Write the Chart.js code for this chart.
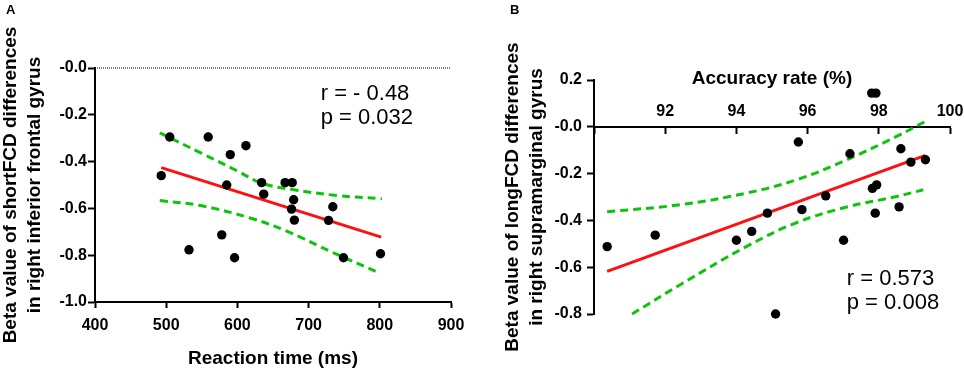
<!DOCTYPE html>
<html>
<head>
<meta charset="utf-8">
<script src="https://cdn.jsdelivr.net/npm/chart.js@4/dist/chart.umd.min.js"></script>
<style>
  html, body { margin: 0; padding: 0; background: #fff; }
  #wrap { position: relative; width: 964px; height: 373px; overflow: hidden; }
  .panel { position: absolute; top: 0; height: 373px; }
  .tag { position: absolute; top: 2px; font: bold 13px "Liberation Sans", Arial, sans-serif; }
</style>
</head>
<body>
<div id="wrap">
  <div class="panel" style="left:0;width:480px"><canvas id="chartA" width="480" height="373"></canvas></div>
  <div class="panel" style="left:480px;width:484px"><canvas id="chartB" width="484" height="373"></canvas></div>
  <div class="tag" style="left:6px">A</div>
  <div class="tag" style="left:510px">B</div>
</div>
<script>
// panel A: reaction time (ms) vs beta of shortFCD
const rtA = [493, 505, 559, 590, 612, 585, 532, 578, 596, 634, 637, 667, 677, 679, 676, 680, 734, 728, 749, 801];
const betaA = [-0.46, -0.295, -0.295, -0.37, -0.332, -0.50, -0.777, -0.713, -0.811, -0.49, -0.539, -0.49, -0.49, -0.563, -0.603, -0.65, -0.593, -0.651, -0.811, -0.794];
const fitA_x = [493, 802];
const fitA_y = [-0.426, -0.723];
const ciUpA_x = [491, 550, 600, 634, 679, 740, 803];
const ciUpA_y = [-0.277, -0.365, -0.44, -0.492, -0.52, -0.545, -0.559];
const ciLoA_x = [491, 548, 618, 670, 735, 801];
const ciLoA_y = [-0.566, -0.588, -0.641, -0.698, -0.79, -0.878];
const xTicksA = [400, 500, 600, 700, 800, 900];
const yTicksA = [0, -0.2, -0.4, -0.6, -0.8, -1.0];

// panel B: accuracy rate (%) vs beta of longFCD
const accB = [90.37, 91.72, 94.0, 94.43, 94.87, 95.10, 95.74, 95.84, 96.51, 97.01, 97.19, 97.80, 97.92, 97.82, 97.94, 97.90, 98.62, 98.57, 98.90, 99.31];
const betaB = [-0.512, -0.463, -0.485, -0.447, -0.369, -0.80, -0.065, -0.354, -0.295, -0.485, -0.115, 0.144, 0.144, -0.263, -0.248, -0.369, -0.094, -0.342, -0.151, -0.141];
const fitB_x = [90.37, 99.31];
const fitB_y = [-0.618, -0.122];
const ciUpB_x = [90.37, 92.42, 94.29, 95.70, 97.10, 98.50, 99.31];
const ciUpB_y = [-0.363, -0.333, -0.283, -0.226, -0.141, -0.041, 0.023];
const ciLoB_x = [91.07, 92.42, 94.29, 95.70, 97.10, 98.50, 99.25];
const ciLoB_y = [-0.80, -0.675, -0.511, -0.409, -0.343, -0.298, -0.269];
const xTicksB = [92, 94, 96, 98, 100];
const yTicksB = [0.2, 0, -0.2, -0.4, -0.6, -0.8];

const FONT = '"Liberation Sans", Arial, sans-serif';
const GREEN = '#0cc40c';
const RED = '#ff1010';

const pts = (xs, ys) => xs.map((x, i) => ({ x, y: ys[i] }));

function yLabel(v) {
  if (Math.abs(v) < 1e-9) return '-0.0';
  return v.toFixed(1);
}

// draws the r / p text at a data position
const notePlugin = {
  id: 'note',
  afterDraw(chart, args, opts) {
    if (!opts.lines) return;
    const { ctx, scales } = chart;
    const x = scales.x.getPixelForValue(opts.x);
    const y = scales.y.getPixelForValue(opts.y);
    ctx.save();
    ctx.fillStyle = '#000';
    ctx.font = '22px ' + FONT;
    ctx.textBaseline = 'alphabetic';
    opts.lines.forEach((t, i) => ctx.fillText(t, x, y + i * 24));
    if (opts.xTitle) {
      ctx.font = 'bold 19px ' + FONT;
      ctx.textAlign = 'center';
      ctx.textBaseline = 'middle';
      const ca = chart.chartArea;
      ctx.fillText(opts.xTitle, (ca.left + ca.right) / 2, scales.y.getPixelForValue(0) - 48);
    }
    ctx.restore();
  }
};

function datasets(sx, sy, fx, fy, ux, uy, lx, ly) {
  return [
    { data: pts(sx, sy), showLine: false, pointRadius: 4.7, pointHoverRadius: 4.7,
      backgroundColor: '#000', borderColor: '#000', borderWidth: 0, order: 0, clip: 8 },
    { data: pts(fx, fy), showLine: true, pointRadius: 0, borderColor: RED, borderWidth: 3, order: 1, clip: 8 },
    { data: pts(ux, uy), showLine: true, pointRadius: 0, borderColor: GREEN, borderWidth: 3,
      borderDash: [8, 5], tension: 0.4, order: 2, clip: 8 },
    { data: pts(lx, ly), showLine: true, pointRadius: 0, borderColor: GREEN, borderWidth: 3,
      borderDash: [8, 5], tension: 0.4, order: 2, clip: 8 }
  ];
}

const tickFont = { family: FONT, size: 16, weight: 'bold' };
const titleFont = { family: FONT, size: 19, weight: 'bold', lineHeight: 1.26 };

// ---- panel A
const dsA = datasets(rtA, betaA, fitA_x, fitA_y, ciUpA_x, ciUpA_y, ciLoA_x, ciLoA_y);
dsA.push({ data: pts([400, 900], [0, 0]), showLine: true, pointRadius: 0, borderColor: '#000',
  borderWidth: 1, borderDash: [1, 1], order: 3, clip: 8 });

new Chart(document.getElementById('chartA'), {
  type: 'scatter',
  data: { datasets: dsA },
  plugins: [notePlugin],
  options: {
    responsive: false, animation: false, devicePixelRatio: 1,
    layout: { padding: { top: 68, right: 29, left: 0, bottom: 0 } },
    plugins: { legend: { display: false }, tooltip: { enabled: false },
      note: { x: 717, y: -0.137, lines: ['r = - 0.48', 'p = 0.032'] } },
    scales: {
      x: {
        type: 'linear', min: 400, max: 900,
        afterBuildTicks: s => { s.ticks = xTicksA.map(v => ({ value: v })); },
        afterFit: s => { s.height = 71; },
        ticks: { font: tickFont, color: '#000', padding: 8 },
        grid: { drawOnChartArea: false, tickLength: 6, tickWidth: 2, color: '#000' },
        border: { color: '#000', width: 2 },
        title: { display: true, text: 'Reaction time (ms)', font: titleFont, color: '#000',
          padding: { top: 0, bottom: 2 } }
      },
      y: {
        type: 'linear', min: -1.0, max: 0,
        afterBuildTicks: s => { s.ticks = yTicksA.map(v => ({ value: v })); },
        afterFit: s => { s.width = 95; },
        ticks: { font: tickFont, color: '#000', padding: 1, callback: yLabel },
        grid: { drawOnChartArea: false, tickLength: 7, tickWidth: 2, color: '#000' },
        border: { color: '#000', width: 2 },
        title: { display: true, text: ['Beta value of shortFCD differences', 'in right inferior frontal gyrus'],
          font: titleFont, color: '#000', padding: { top: -1, bottom: 0 } }
      }
    }
  }
});

// ---- panel B
const dsB = datasets(accB, betaB, fitB_x, fitB_y, ciUpB_x, ciUpB_y, ciLoB_x, ciLoB_y);

new Chart(document.getElementById('chartB'), {
  type: 'scatter',
  data: { datasets: dsB },
  plugins: [notePlugin],
  options: {
    responsive: false, animation: false, devicePixelRatio: 1,
    layout: { padding: { top: 80, right: 14, left: 0, bottom: 59 } },
    plugins: { legend: { display: false }, tooltip: { enabled: false },
      note: { x: 97.1, y: -0.675, lines: ['r = 0.573', 'p = 0.008'], xTitle: 'Accuracy rate (%)' } },
    scales: {
      x: {
        type: 'linear', min: 90, max: 100, position: { y: 0 },
        afterBuildTicks: s => { s.ticks = [90].concat(xTicksB).map(v => ({ value: v })); },
        ticks: { font: tickFont, color: '#000', padding: -31,
          callback: v => (v === 90 ? '' : String(v)) },
        grid: { drawOnChartArea: false, tickLength: 6, tickWidth: 2, color: '#000' },
        border: { color: '#000', width: 2 }
      },
      y: {
        type: 'linear', min: -0.8, max: 0.2,
        afterBuildTicks: s => { s.ticks = yTicksB.map(v => ({ value: v })); },
        afterFit: s => { s.width = 114; },
        ticks: { font: tickFont, color: '#000', padding: 5, callback: yLabel },
        grid: { drawOnChartArea: false, tickLength: 7, tickWidth: 2, color: '#000' },
        border: { color: '#000', width: 2 },
        title: { display: true, text: ['Beta value of longFCD differences', 'in right supramarginal gyrus'],
          font: titleFont, color: '#000', padding: { top: 21, bottom: 0 } }
      }
    }
  }
});
</script>
</body>
</html>
